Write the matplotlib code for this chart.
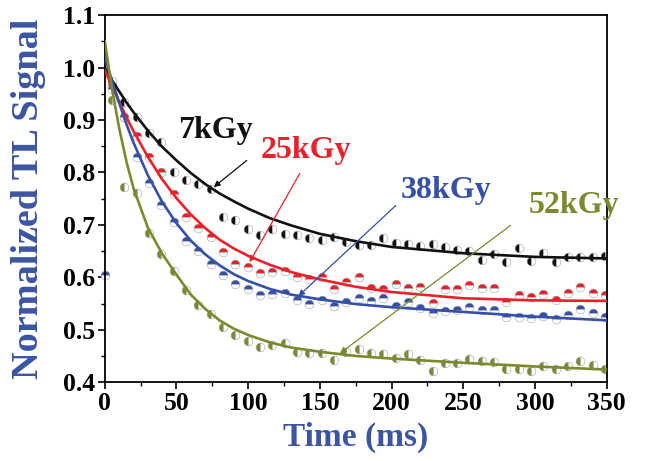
import matplotlib
matplotlib.use("Agg")
import matplotlib.pyplot as plt
from matplotlib.ticker import MultipleLocator

# ============================================================
# DATA
# ============================================================

time_ms = [5, 13.6, 22.2, 30.8, 39.4, 48, 56.6, 65.2, 73.8, 82.4, 91, 99.6, 108.2,
           116.8, 125.4, 134, 142.6, 151.2, 159.8, 168.4, 177, 185.6, 194.2, 202.8,
           211.4, 220, 228.6, 237.2, 245.8, 254.4, 263, 271.6, 280.2, 288.8, 297.4,
           306, 314.6, 323.2, 331.8, 340.4, 349]

sig_7kgy = [0.975, 0.935, 0.905, 0.876, 0.858, 0.800, 0.786, 0.778, 0.768, 0.715,
            0.710, 0.693, 0.680, 0.693, 0.683, 0.681, 0.675, 0.671, 0.676, 0.667,
            0.662, 0.661, 0.675, 0.665, 0.663, 0.659, 0.663, 0.657, 0.653, 0.651,
            0.634, 0.645, 0.629, 0.656, 0.631, 0.647, 0.629, 0.638, 0.638, 0.638, 0.640]

sig_25kgy = [0.965, 0.905, 0.870, 0.830, 0.800, 0.758, 0.715, 0.695, 0.676, 0.648,
             0.626, 0.620, 0.608, 0.610, 0.613, 0.601, 0.597, 0.600, 0.578, 0.591,
             0.600, 0.580, 0.577, 0.587, 0.579, 0.581, 0.551, 0.577, 0.577, 0.585,
             0.579, 0.579, 0.553, 0.567, 0.562, 0.569, 0.556, 0.570, 0.581, 0.570, 0.566]

sig_38kgy = [0.960, 0.905, 0.830, 0.780, 0.738, 0.705, 0.670, 0.650, 0.625, 0.605,
             0.588, 0.578, 0.567, 0.568, 0.570, 0.557, 0.550, 0.556, 0.545, 0.552,
             0.560, 0.554, 0.561, 0.545, 0.552, 0.541, 0.532, 0.535, 0.537, 0.543,
             0.537, 0.537, 0.524, 0.524, 0.522, 0.527, 0.520, 0.529, 0.539, 0.531, 0.524]

sig_52kgy = [0.938, 0.772, 0.760, 0.685, 0.645, 0.612, 0.575, 0.548, 0.530, 0.505,
             0.490, 0.478, 0.468, 0.470, 0.474, 0.458, 0.455, 0.455, 0.442, 0.457,
             0.463, 0.455, 0.453, 0.447, 0.453, 0.442, 0.422, 0.436, 0.436, 0.445,
             0.440, 0.438, 0.426, 0.426, 0.421, 0.430, 0.425, 0.430, 0.441, 0.432, 0.426]

# stray 38kGy point sitting on the y axis
stray_t = [0]
stray_sig = [0.604]

# fitted decay curves
fit_t = [0, 5, 10, 15, 20, 30, 40, 50, 60, 70, 80, 90, 100, 115, 130, 150, 175,
         200, 250, 300, 350]
fit_7kgy = [1.000, 0.976, 0.955, 0.934, 0.915, 0.880, 0.849, 0.823, 0.799, 0.778,
            0.760, 0.745, 0.731, 0.713, 0.699, 0.683, 0.669, 0.658, 0.646, 0.639, 0.636]
fit_25kgy = [0.995, 0.965, 0.935, 0.906, 0.879, 0.830, 0.787, 0.751, 0.720, 0.694,
             0.672, 0.655, 0.641, 0.624, 0.610, 0.596, 0.582, 0.572, 0.560, 0.556, 0.555]
fit_38kgy = [1.020, 0.975, 0.933, 0.893, 0.857, 0.795, 0.744, 0.703, 0.670, 0.644,
             0.623, 0.606, 0.593, 0.578, 0.567, 0.558, 0.549, 0.543, 0.534, 0.525, 0.518]
fit_52kgy = [1.050, 0.960, 0.885, 0.822, 0.770, 0.695, 0.645, 0.605, 0.567, 0.540,
             0.518, 0.502, 0.490, 0.476, 0.466, 0.458, 0.450, 0.445, 0.437, 0.430, 0.424]

labels = ["7kGy", "25kGy", "38kGy", "52kGy"]
# label centre (t, signal) and arrow tail -> head
label_pos = [(77, 0.880), (140, 0.842), (238, 0.766), (327, 0.737)]
arrow_from = [(99, 0.823), (136, 0.798), (203, 0.737), (283, 0.699)]
arrow_to = [(76, 0.772), (101, 0.629), (135, 0.564), (164, 0.455)]

# ============================================================
# PLOT
# ============================================================

COLORS = ["#111111", "#e8212b", "#3550a8", "#7a8a2e"]
FILLS = ["left", "top", "top", "left"]
AXIS_BLUE = "#3b55a3"

plt.rcParams["font.family"] = ["Liberation Serif", "DejaVu Serif"]
plt.rcParams["font.weight"] = "bold"

fig = plt.figure(figsize=(6.55, 4.61), dpi=100)
ax = fig.add_axes([0.160, 0.171, 0.766, 0.796])

series = [sig_7kgy, sig_25kgy, sig_38kgy, sig_52kgy]
fits = [fit_7kgy, fit_25kgy, fit_38kgy, fit_52kgy]

for sig, fit, col, fs in zip(series, fits, COLORS, FILLS):
    ax.plot(time_ms, sig, linestyle="none", marker="o", markersize=6.3,
            fillstyle=fs, color=col, markerfacecoloralt="white",
            markeredgecolor="#a0a0a0", markeredgewidth=0.4, zorder=2)
    ax.plot(fit_t, fit, color=col, linewidth=1.9, zorder=3)

ax.plot(stray_t, stray_sig, linestyle="none", marker="o", markersize=6.3,
        fillstyle="top", color=COLORS[2], markerfacecoloralt="white",
        markeredgecolor="#a0a0a0", markeredgewidth=0.4, clip_on=False, zorder=2)

for lab, pos, a0, a1, col in zip(labels, label_pos, arrow_from, arrow_to, COLORS):
    ax.annotate("", xy=a1, xytext=a0,
                arrowprops=dict(arrowstyle="-|>", color=col, lw=0.9,
                                mutation_scale=9, shrinkA=0, shrinkB=0))
    ax.text(pos[0], pos[1], lab, color=col, fontsize=23, fontweight="bold",
            ha="center", va="center")

ax.set_xlim(0, 350)
ax.set_ylim(0.4, 1.1)
ax.xaxis.set_major_locator(MultipleLocator(50))
ax.xaxis.set_minor_locator(MultipleLocator(25))
ax.yaxis.set_major_locator(MultipleLocator(0.1))
ax.yaxis.set_minor_locator(MultipleLocator(0.05))
ax.yaxis.set_major_formatter(plt.FuncFormatter(lambda v, p: f"{v:.1f}"))

ax.tick_params(which="major", direction="out", length=5, width=1.2,
               labelsize=18.5, pad=2)
ax.tick_params(which="minor", direction="out", length=3, width=1.0)
for lbl in ax.get_xticklabels() + ax.get_yticklabels():
    lbl.set_fontweight("bold")
for sp in ax.spines.values():
    sp.set_linewidth(1.3)

ax.set_xlabel("Time (ms)", fontsize=24, fontweight="bold", color=AXIS_BLUE, labelpad=5)
ax.set_ylabel("Normalized TL Signal", fontsize=27.5, fontweight="bold", color=AXIS_BLUE,
              labelpad=12)

fig.savefig("out.png", dpi=100)
